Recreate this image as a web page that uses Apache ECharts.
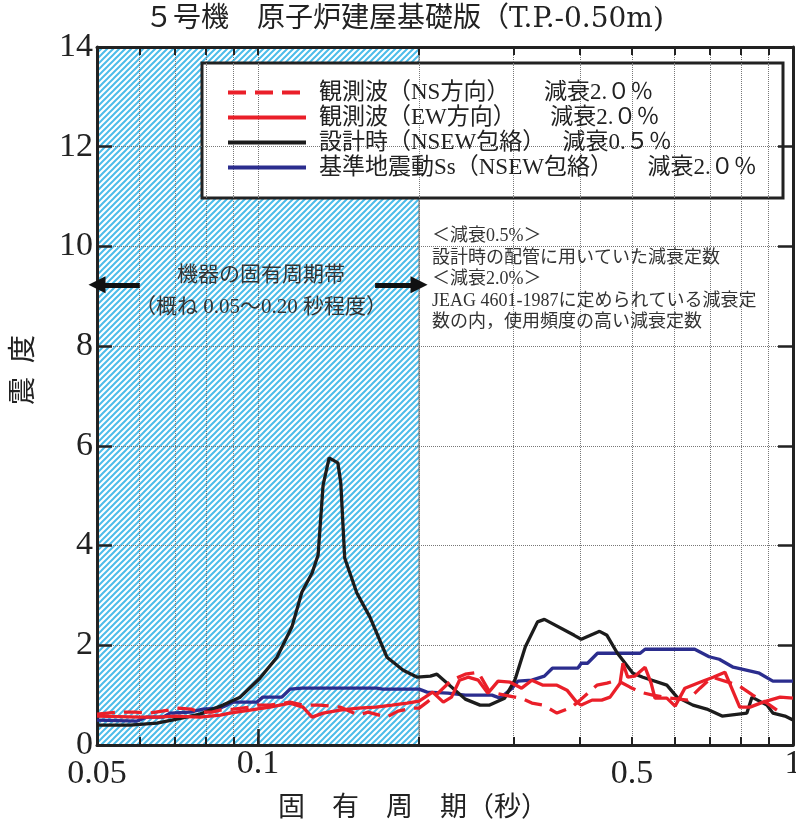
<!DOCTYPE html>
<html><head><meta charset="utf-8">
<script src="https://cdn.jsdelivr.net/npm/echarts@6/dist/echarts.min.js"></script>
<style>html,body{margin:0;padding:0;background:#fff}#c{width:796px;height:820px}</style>
</head><body><div id="c"></div>
<script>
// ---- data (period [s], response ratio) ----
const seriesNames = ['観測波（NS方向）　　減衰2.０％', '観測波（EW方向）　　減衰2.０％', '設計時（NSEW包絡）　 減衰0.５％', '基準地震動Ss（NSEW包絡）　　減衰2.０％'];
const nsWave = [[0.05,0.62],[0.055,0.66],[0.0589,0.66],[0.0628,0.64],[0.068,0.70],[0.0705,0.74],[0.075,0.72],[0.0779,0.66],[0.082,0.66],[0.0849,0.70],[0.09,0.72],[0.0966,0.76],[0.1,0.80],[0.1052,0.80],[0.1148,0.86],[0.1213,0.80],[0.1305,0.80],[0.1423,0.76],[0.154,0.60],[0.1605,0.66],[0.174,0.56],[0.1826,0.68],[0.195,0.74],[0.2,0.74],[0.207,0.86],[0.217,1.04],[0.230,1.30],[0.244,1.42],[0.258,1.46],[0.271,1.06],[0.289,1.0],[0.302,0.96],[0.313,0.92],[0.325,0.84],[0.341,0.80],[0.362,0.64],[0.386,0.76],[0.400,0.90],[0.430,1.20],[0.449,1.24],[0.469,1.30],[0.496,1.16],[0.518,1.06],[0.547,1.0],[0.589,0.94],[0.636,0.90],[0.670,1.14],[0.706,1.36],[0.789,1.20],[0.841,1.0],[0.894,0.84],[0.933,0.70]];
const ewWave = [[0.05,0.58],[0.06,0.56],[0.065,0.56],[0.07,0.58],[0.0779,0.56],[0.085,0.60],[0.0886,0.64],[0.0966,0.70],[0.1052,0.76],[0.1148,0.84],[0.1213,0.76],[0.1262,0.56],[0.1323,0.64],[0.1423,0.70],[0.154,0.74],[0.166,0.76],[0.178,0.80],[0.19,0.84],[0.2,0.88],[0.212,1.06],[0.222,0.86],[0.23,0.96],[0.238,1.30],[0.247,1.36],[0.258,1.30],[0.269,1.04],[0.281,1.28],[0.296,1.26],[0.311,1.14],[0.325,1.30],[0.341,1.20],[0.362,1.20],[0.378,1.10],[0.394,0.86],[0.402,0.80],[0.421,0.90],[0.439,0.90],[0.455,0.96],[0.475,1.24],[0.481,1.64],[0.491,1.36],[0.506,1.38],[0.529,1.56],[0.543,1.24],[0.552,0.94],[0.581,0.94],[0.602,0.78],[0.628,1.14],[0.670,1.26],[0.709,1.36],[0.746,1.46],[0.795,0.76],[0.831,0.76],[0.879,0.86],[0.946,0.96],[1.0,0.94]];
const designWave = [[0.05,0.40],[0.0576,0.40],[0.0647,0.44],[0.0705,0.52],[0.0779,0.62],[0.086,0.80],[0.0926,0.96],[0.1008,1.34],[0.1085,1.76],[0.1157,2.37],[0.1208,3.07],[0.1262,3.45],[0.1295,3.81],[0.1323,5.21],[0.1358,5.76],[0.141,5.66],[0.1428,5.25],[0.1452,3.75],[0.153,3.05],[0.1618,2.57],[0.1742,1.76],[0.1868,1.50],[0.1985,1.36],[0.21,1.38],[0.216,1.42],[0.244,0.92],[0.26,0.80],[0.271,0.80],[0.289,0.94],[0.302,1.30],[0.316,1.97],[0.333,2.47],[0.343,2.52],[0.39,2.20],[0.402,2.12],[0.435,2.28],[0.449,2.20],[0.469,1.85],[0.502,1.44],[0.524,1.36],[0.581,1.20],[0.607,0.96],[0.65,0.80],[0.69,0.72],[0.737,0.58],[0.82,0.64],[0.838,0.96],[0.894,0.80],[0.917,0.64],[0.966,0.58],[1.0,0.50]];
const ssWave = [[0.05,0.50],[0.0594,0.48],[0.062,0.56],[0.0664,0.56],[0.0685,0.64],[0.0746,0.66],[0.0789,0.72],[0.0849,0.74],[0.0875,0.80],[0.0898,0.86],[0.0995,0.86],[0.1021,0.96],[0.1108,0.96],[0.1148,1.12],[0.1208,1.14],[0.1668,1.14],[0.171,1.12],[0.2,1.12],[0.207,1.06],[0.2265,1.04],[0.244,1.0],[0.2737,1.0],[0.2835,0.94],[0.2985,1.14],[0.306,1.28],[0.325,1.30],[0.343,1.38],[0.355,1.54],[0.396,1.54],[0.402,1.64],[0.413,1.64],[0.431,1.84],[0.518,1.84],[0.529,1.92],[0.655,1.92],[0.697,1.77],[0.728,1.72],[0.773,1.56],[0.865,1.44],[0.917,1.28],[1.0,1.28]];
const xTickValues = [0.06,0.07,0.08,0.09,0.1,0.2,0.3,0.4,0.5,0.6,0.7,0.8,0.9];
const xLabelValues = [0.05,0.1,0.5,1];
const xMajorTick = [0.1];
const bandRange = [0.05, 0.2];
const arrowLevel = 9.23;
const arrowLeft = [0.0601, 0.05];
const arrowRight = [0.1655, 0.2];

// ---- styling ----
const serif = "'Liberation Serif','Noto Sans CJK JP',serif";
const ink = '#222';
const pc = document.createElement('canvas'); pc.width = 6; pc.height = 6;
const g = pc.getContext('2d');
g.fillStyle = '#ffffff'; g.fillRect(0,0,6,6);
g.strokeStyle = '#4dbce9'; g.lineWidth = 2.0;
g.beginPath(); g.moveTo(-1,7); g.lineTo(7,-1); g.moveTo(-1,1); g.lineTo(1,-1); g.moveTo(5,7); g.lineTo(7,5); g.stroke();

const axisLineStyle = {color: ink, width: 3};
const lw = 3.3;
const chart = echarts.init(document.getElementById('c'), null, {renderer: 'canvas'});
const logX = (extra) => Object.assign({type:'log', logBase:10, min:0.05, max:1, gridIndex:0}, extra);

chart.setOption({
  animation: false,
  backgroundColor: '#fff',
  title: {text: '５号機　原子炉建屋基礎版（T.P.-0.50m)', left: 145, top: 6, padding: 0,
    textStyle: {fontSize: 28, fontWeight: 'normal', fontFamily: "'DejaVu Serif','Noto Sans CJK JP',serif", color: ink}},
  grid: {left: 97, right: 3, top: 47, bottom: 75, containLabel: false, outerBoundsMode: 'none'},
  legend: {
    data: seriesNames, orient: 'vertical', left: 226, top: 81, padding: 0,
    itemWidth: 78, itemHeight: 14, itemGap: 2,
    itemStyle: {opacity: 0},
    lineStyle: {width: 4},
    textStyle: {fontSize: 23, lineHeight: 23, fontFamily: serif, color: ink, padding: [0,0,0,8]}
  },
  xAxis: [
    logX({position: 'bottom',
      name: '固　有　周　期（秒）', nameLocation: 'middle', nameGap: 45,
      nameTextStyle: {fontSize: 27, fontFamily: serif, color: ink, padding: [0,64,0,0]},
      axisLine: {show: true, onZero: false, lineStyle: axisLineStyle},
      axisTick: {show: true, inside: true, length: 8, customValues: xTickValues, lineStyle: {color: ink, width: 2}},
      axisLabel: {show: true, customValues: xLabelValues, margin: 2,
        formatter: v => { const s = String(+(+v).toPrecision(6)); return (s === '0.05' || s === '0.5') ? '{lo|' + s + '}' : '{hi|' + s + '}'; },
        rich: {lo: {fontSize: 34, fontFamily: serif, color: ink, padding: [10,0,0,0]}, hi: {fontSize: 34, fontFamily: serif, color: ink}}},
      splitLine: {show: true, lineStyle: {color: '#777', type: 'dotted', width: 1}}}),
    logX({position: 'top',
      axisLine: {show: true, onZero: false, lineStyle: axisLineStyle},
      axisTick: {show: true, inside: true, length: 8, customValues: xTickValues, lineStyle: {color: ink, width: 2}},
      axisLabel: {show: false}, splitLine: {show: false}}),
    logX({position: 'bottom',
      axisLine: {show: false},
      axisTick: {show: true, inside: true, length: 16, customValues: xMajorTick, lineStyle: {color: ink, width: 2.5}},
      axisLabel: {show: false}, splitLine: {show: false}})
  ],
  yAxis: [
    {type: 'value', min: 0, max: 14, interval: 2, position: 'left',
      name: '震  度', nameLocation: 'middle', nameRotate: 90, nameGap: 58,
      nameTextStyle: {fontSize: 28, fontFamily: serif, color: ink, padding: [0,0,0,52]},
      axisLine: {show: true, lineStyle: axisLineStyle},
      axisTick: {show: true, inside: true, length: 15, lineStyle: {color: ink, width: 2.5}},
      axisLabel: {margin: 4, fontSize: 34, fontFamily: serif, color: ink},
      splitLine: {show: true, lineStyle: {color: '#777', type: 'dotted', width: 1}}},
    {type: 'value', min: 0, max: 14, interval: 2, position: 'right',
      axisLine: {show: true, lineStyle: axisLineStyle},
      axisTick: {show: true, inside: true, length: 15, lineStyle: {color: ink, width: 2.5}},
      axisLabel: {show: false}, splitLine: {show: false}}
  ],
  graphic: {elements: [
    {type: 'rect', z: -1, shape: {x: 202, y: 63, width: 581, height: 135}, style: {fill: '#fff', stroke: ink, lineWidth: 3}},
    {type: 'text', z: 10, x: 261, y: 291, style: {text: '機器の固有周期帯\n（概ね 0.05～0.20 秒程度）', font: "21px 'Liberation Serif','Noto Sans CJK JP'", lineHeight: 32, fill: '#333', textAlign: 'center', textVerticalAlign: 'middle'}},
    {type: 'text', z: 10, x: 432, y: 226, style: {text: '＜減衰0.5%＞\n設計時の配管に用いていた減衰定数\n＜減衰2.0%＞\nJEAG 4601-1987に定められている減衰定\n数の内，使用頻度の高い減衰定数', font: "18px 'Liberation Serif','Noto Sans CJK JP'", lineHeight: 21.4, fill: '#333', textAlign: 'left', textVerticalAlign: 'top'}}
  ]},
  series: [
    {name: 'band', type: 'line', data: [], z: -5, silent: true, xAxisIndex: 0, yAxisIndex: 0,
      markArea: {silent: true, z: -5, itemStyle: {color: {image: pc, repeat: 'repeat'}, borderColor: '#666', borderWidth: 1},
        data: [[{xAxis: bandRange[0]}, {xAxis: bandRange[1]}]]},
      markLine: {silent: true, symbol: ['none', 'triangle'], symbolSize: 17, label: {show: false},
        lineStyle: {color: '#111', width: 5, type: 'solid'},
        data: [[{coord: [arrowLeft[0], arrowLevel]}, {coord: [arrowLeft[1], arrowLevel]}],
               [{coord: [arrowRight[0], arrowLevel]}, {coord: [arrowRight[1], arrowLevel]}]]}},
    {name: seriesNames[3], type: 'line', data: ssWave, symbol: 'none', z: 2, lineStyle: {color: '#2b2d8e', width: lw}, itemStyle: {color: '#2b2d8e'}},
    {name: seriesNames[2], type: 'line', data: designWave, symbol: 'none', z: 2, lineStyle: {color: '#1c1c1c', width: lw}, itemStyle: {color: '#1c1c1c'}},
    {name: seriesNames[1], type: 'line', data: ewWave, symbol: 'none', z: 2, lineStyle: {color: '#ea1f29', width: lw}, itemStyle: {color: '#ea1f29'}},
    {name: seriesNames[0], type: 'line', data: nsWave, symbol: 'none', z: 2, lineStyle: {color: '#ea1f29', width: lw, type: [18, 9]}, itemStyle: {color: '#ea1f29'}}
  ]
});
</script></body></html>
